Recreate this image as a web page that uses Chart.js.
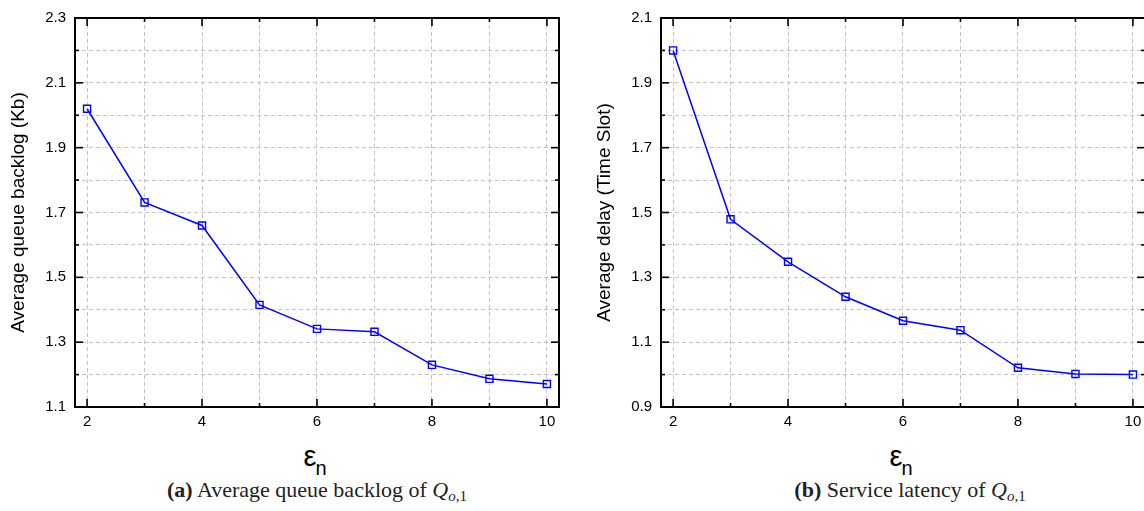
<!DOCTYPE html>
<html><head><meta charset="utf-8">
<script src="https://cdn.jsdelivr.net/npm/chart.js@4/dist/chart.umd.min.js"></script>
<style>
body{margin:0;width:1144px;height:511px;overflow:hidden;background:#fff;position:relative;font-family:"Liberation Sans",Arial,sans-serif}
.wrap{position:absolute;top:0;width:580px;height:440px}
#wa{left:0}#wb{left:586px}
.xt{position:absolute;top:441px;font-size:29px;line-height:30px;color:#000;transform:translateX(-50%);white-space:nowrap}
.xt sub{font-size:20px;vertical-align:-9px;margin-left:-1px}
.cap{position:absolute;top:478px;font-family:"Liberation Serif","DejaVu Serif",serif;font-size:22px;line-height:24px;color:#222;transform:translateX(-50%);white-space:nowrap}
.cap sub{font-size:15px;vertical-align:-4px}
</style></head><body>
<div class="wrap" id="wa"><canvas id="ca" width="580" height="440"></canvas></div>
<div class="wrap" id="wb"><canvas id="cb" width="580" height="440"></canvas></div>
<div class="xt" style="left:315px">ε<sub>n</sub></div>
<div class="xt" style="left:901px">ε<sub>n</sub></div>
<div class="cap" style="left:317px"><b>(a)</b> Average queue backlog of <i>Q</i><sub><i>o</i>,1</sub></div>
<div class="cap" style="left:910px"><b>(b)</b> Service latency of <i>Q</i><sub><i>o</i>,1</sub></div>
<script>
const epsilonN = [2, 3, 4, 5, 6, 7, 8, 9, 10];
const backlogKb = [2.02, 1.731, 1.66, 1.415, 1.341, 1.332, 1.23, 1.187, 1.171];
const delaySlots = [2.0, 1.479, 1.348, 1.24, 1.166, 1.137, 1.021, 1.002, 1.0];
const xTickLabels = ['2', '4', '6', '8', '10'];
const yTickLabelsA = ['1.1', '1.3', '1.5', '1.7', '1.9', '2.1', '2.3'];
const yTickLabelsB = ['0.9', '1.1', '1.3', '1.5', '1.7', '1.9', '2.1'];
const yGridA = [1.1, 1.2, 1.3, 1.4, 1.5, 1.6, 1.7, 1.8, 1.9, 2.0, 2.1, 2.2, 2.3];
const yGridB = [0.9, 1.0, 1.1, 1.2, 1.3, 1.4, 1.5, 1.6, 1.7, 1.8, 1.9, 2.0, 2.1];

const FONT = '"Liberation Sans", Arial, sans-serif';

const framePlugin = {
  id: 'frame',
  afterDraw(chart) {
    const {ctx, chartArea: a, scales: {x, y}} = chart;
    ctx.save();
    ctx.strokeStyle = '#000';
    ctx.lineWidth = 1.6;
    const seg = (x1, y1, x2, y2) => { ctx.beginPath(); ctx.moveTo(x1, y1); ctx.lineTo(x2, y2); ctx.stroke(); };
    x.ticks.forEach(t => {
      const px = x.getPixelForValue(t.value);
      const L = t.label ? 8 : 4;
      seg(px, a.bottom, px, a.bottom - L);
      seg(px, a.top, px, a.top + L);
    });
    y.ticks.forEach(t => {
      const py = y.getPixelForValue(t.value);
      const L = t.label ? 8 : 4;
      seg(a.left, py, a.left + L, py);
      seg(a.right, py, a.right - L, py);
    });
    ctx.lineWidth = 2;
    ctx.strokeRect(a.left, a.top, a.right - a.left, a.bottom - a.top);
    ctx.restore();
  }
};

function makeChart(id, values, yGrid, yLabels, yTitle, yMin, yMax) {
  new Chart(document.getElementById(id), {
    type: 'line',
    data: {
      datasets: [{
        data: epsilonN.map((e, i) => ({x: e, y: values[i]})),
        borderColor: '#0000ff',
        borderWidth: 1.5,
        pointStyle: 'rect',
        pointRadius: 5,
        pointHoverRadius: 5,
        pointBorderWidth: 1.4,
        pointBackgroundColor: 'rgba(255,255,255,0)',
        pointBorderColor: '#0000ff',
        tension: 0,
        clip: false
      }]
    },
    plugins: [framePlugin],
    options: {
      responsive: false,
      animation: false,
      events: [],
      layout: {padding: {top: 18, right: 21, left: 0, bottom: 0}},
      plugins: {legend: {display: false}, tooltip: {enabled: false}},
      scales: {
        x: {
          type: 'linear',
          min: 1.79, max: 10.21,
          afterBuildTicks: s => { s.ticks = epsilonN.map(v => ({value: v})); },
          afterFit: s => { s.height = 33; },
          grid: {color: '#c4c4c4', lineWidth: 1, drawTicks: false},
          border: {display: false, dash: [4, 3]},
          ticks: {
            autoSkip: false, maxRotation: 0, padding: 6, color: '#000',
            font: {family: FONT, size: 15},
            callback: v => xTickLabels.includes(String(v)) ? String(v) : ''
          }
        },
        y: {
          type: 'linear',
          min: yMin, max: yMax,
          afterBuildTicks: s => { s.ticks = yGrid.map(v => ({value: v})); },
          afterFit: s => { s.width = 75; },
          grid: {color: '#c4c4c4', lineWidth: 1, drawTicks: false},
          border: {display: false, dash: [4, 3]},
          title: {display: true, text: yTitle, color: '#000', font: {family: FONT, size: 19}, padding: {top: 7, bottom: 0}},
          ticks: {
            autoSkip: false, padding: 9, color: '#000',
            font: {family: FONT, size: 15},
            callback: v => { const s = (Math.round(v * 10) / 10).toFixed(1); return yLabels.includes(s) ? s : ''; }
          }
        }
      }
    }
  });
}

makeChart('ca', backlogKb, yGridA, yTickLabelsA, 'Average queue backlog (Kb)', 1.1, 2.3);
makeChart('cb', delaySlots, yGridB, yTickLabelsB, 'Average delay (Time Slot)', 0.9, 2.1);
</script>
</body></html>
